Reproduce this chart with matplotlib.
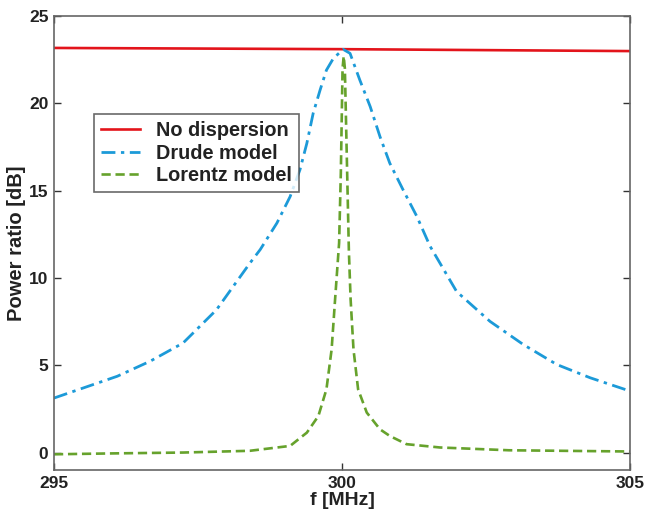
import matplotlib
matplotlib.use("Agg")
import matplotlib.pyplot as plt

# ---- data ----
f_nodisp = [295.0, 300.0, 305.0]
p_nodisp = [23.17, 23.10, 22.99]

f_drude = [295.0, 296.1, 296.67, 297.24, 297.82, 298.40, 298.58, 298.87, 299.10,
           299.27, 299.39, 299.50, 299.62, 299.73, 299.85, 300.02, 300.14, 300.31,
           300.49, 300.66, 300.83, 301.06, 301.30, 301.53, 301.99, 302.57, 303.15,
           303.73, 304.31, 305.0]
p_drude = [3.12, 4.37, 5.23, 6.27, 8.17, 10.84, 11.62, 13.14, 14.66,
           16.19, 17.71, 19.43, 20.76, 21.9, 22.57, 23.09, 22.86, 21.33,
           19.81, 18.09, 16.57, 15.05, 13.52, 11.81, 9.22, 7.51, 6.18,
           5.04, 4.28, 3.52]

f_lorentz = [295.0, 296.0, 297.24, 298.40, 299.10, 299.39, 299.59, 299.73, 299.82,
             299.88, 299.95, 299.98, 300.01, 300.03, 300.05, 300.09, 300.12, 300.15,
             300.20, 300.28, 300.43, 300.66, 300.83, 301.12, 301.70, 302.90, 305.0]
p_lorentz = [-0.1, -0.05, 0.0, 0.1, 0.38, 1.14, 2.09, 3.62, 5.9,
             8.76, 12.0, 16.0, 22.0, 22.7, 22.0, 16.0, 11.5, 8.76,
             5.9, 3.62, 2.29, 1.33, 0.95, 0.48, 0.29, 0.13, 0.06]

x_ticks = [295, 300, 305]
y_ticks = [0, 5, 10, 15, 20, 25]

series_labels = ["No dispersion", "Drude model", "Lorentz model"]

# ---- plotting ----
plt.rcParams['font.family'] = ['Liberation Sans', 'DejaVu Sans']
plt.rcParams['font.weight'] = 'bold'

fig = plt.figure(figsize=(6.48, 5.19), dpi=100)
ax = fig.add_axes([0.0833, 0.0944, 0.8889, 0.8748])

ax.plot(f_nodisp, p_nodisp, color='#e3141b', lw=1.9, label=series_labels[0])
ax.plot(f_drude, p_drude, color='#1c9ad8', lw=2.0, linestyle=(0, (5, 2, 1.2, 2)),
        label=series_labels[1])
ax.plot(f_lorentz, p_lorentz, color='#66a22c', lw=1.9, linestyle=(0, (3.5, 1.8)),
        label=series_labels[2])

ax.set_xlim(295, 305)
ax.set_ylim(-1, 25)
ax.set_xticks(x_ticks)
ax.set_yticks(y_ticks)
ax.set_xticklabels([str(t) for t in x_ticks], fontsize=12.5, fontweight='bold')
ax.set_yticklabels([str(t) for t in y_ticks], fontsize=12.5, fontweight='bold')
ax.tick_params(direction='in', length=5, width=1, top=True, right=True,
               colors='#333333', labelcolor='#222222', pad=4)
for s in ax.spines.values():
    s.set_color('#666666')
    s.set_linewidth(1.2)

ax.set_xlabel('f [MHz]', fontsize=14, fontweight='bold', color='#222222', labelpad=1)
ax.set_ylabel('Power ratio [dB]', fontsize=14.5, fontweight='bold', color='#222222',
              labelpad=2)

leg = ax.legend(loc='upper left', bbox_to_anchor=(0.069, 0.784),
                prop={'weight': 'bold', 'size': 14.3}, handlelength=2.0,
                handletextpad=0.8, borderpad=0.35, labelspacing=0.18,
                frameon=True, fancybox=False, borderaxespad=0)
leg.get_frame().set_edgecolor('#444444')
leg.get_frame().set_linewidth(1.2)
for t in leg.get_texts():
    t.set_color('#222222')

fig.savefig('out.png', dpi=100)
